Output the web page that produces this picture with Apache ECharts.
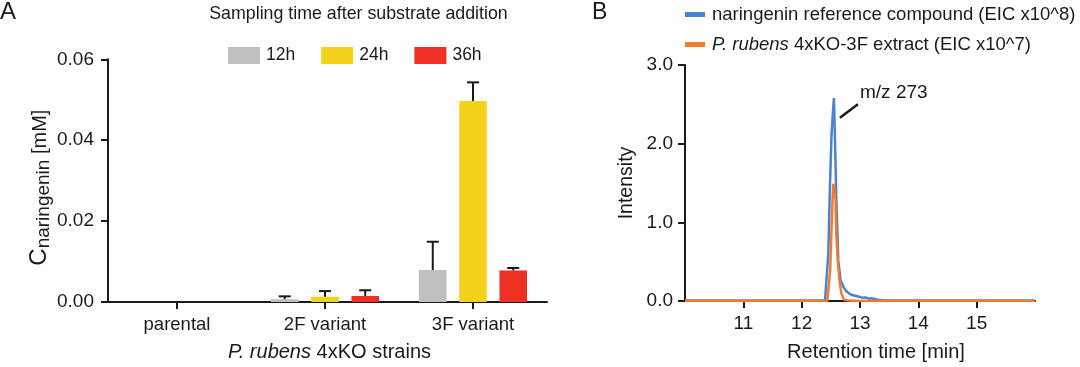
<!DOCTYPE html>
<html><head><meta charset="utf-8">
<script src="https://cdn.jsdelivr.net/npm/echarts@6/dist/echarts.min.js"></script>
<style>html,body{margin:0;padding:0;background:#fff}#c{width:1080px;height:367px}</style>
</head><body><div id="c"></div>
<script>
// ---- Panel A data ----
const strains = ['parental', '2F variant', '3F variant'];
const timeLabels = ['12h', '24h', '36h'];
const mean12 = [0, 0.0007, 0.0079];
const mean24 = [0, 0.0013, 0.0497];
const mean36 = [0, 0.0015, 0.0078];
const sd12 = [0, 0.0007, 0.0070];
const sd24 = [0, 0.0014, 0.0046];
const sd36 = [0, 0.0014, 0.0006];
const yTicksA = [0, 0.02, 0.04, 0.06];

// ---- Panel B data ----
const blueT = [10.0, 11.0, 12.0, 12.40, 12.427, 12.456, 12.484, 12.513, 12.553, 12.573, 12.594, 12.611, 12.628, 12.668, 12.724, 12.76, 12.805, 12.85, 12.9, 12.954, 13.0, 13.05, 13.1, 13.15, 13.2, 13.3, 13.4, 14.0, 15.0, 16.0];
const blueI = [0.005, 0.005, 0.005, 0.005, 0.01, 0.59, 1.43, 2.14, 2.58, 2.0, 1.30, 0.93, 0.51, 0.26, 0.17, 0.13, 0.10, 0.08, 0.07, 0.06, 0.05, 0.04, 0.045, 0.03, 0.035, 0.015, 0.01, 0.005, 0.005, 0.005];
const orangeT = [10.0, 11.0, 12.0, 12.44, 12.467, 12.49, 12.508, 12.525, 12.542, 12.56, 12.58, 12.594, 12.62, 12.65, 12.68, 12.72, 12.8, 13.0, 14.0, 15.0, 16.0];
const orangeI = [0, 0, 0, 0, 0.02, 0.4, 0.84, 1.2, 1.49, 1.42, 1.29, 0.84, 0.5, 0.25, 0.1, 0.02, 0.005, 0, 0, 0, 0];
const xTicksB = [11, 12, 13, 14, 15];
const yTicksB = [0, 1, 2, 3];
const seriesNamesB = ['naringenin reference compound (EIC x10^8)', 'P. rubens 4xKO-3F extract (EIC x10^7)'];

const FONT = 'Liberation Sans, Arial, Helvetica, sans-serif';
const INK = '#1a1a1a';
const barColors = ['#bfbfbf', '#f3d21b', '#ee3124'];
const lineColors = ['#4a82d0', '#f47a2c'];
const CAT_GAP = 0.27, BAR_GAP = 0.46;

const means = [mean12, mean24, mean36];
const sds = [sd12, sd24, sd36];
const errData = [];
means.forEach((m, si) => m.forEach((v, ci) => errData.push([ci, si, v, sds[si][ci]])));

const chart = echarts.init(document.getElementById('c'), null, {renderer: 'canvas'});

const axisLine = {show: true, lineStyle: {color: INK, width: 2}};
const axisTick = {show: true, inside: false, length: 7, lineStyle: {color: INK, width: 2}};

chart.setOption({
  animation: false,
  textStyle: {fontFamily: FONT, color: INK},
  grid: [
    {left: 103, top: 59.3, width: 444, height: 243.4},
    {left: 685, top: 65, width: 350, height: 238.3}
  ],
  legend: [
    {
      data: timeLabels, left: 228, top: 46.5, icon: 'rect', padding: 0,
      itemWidth: 32, itemHeight: 17, itemGap: 26,
      textStyle: {fontSize: 17.5, fontFamily: FONT, color: INK, padding: [0, 0, 0, 1]}
    },
    {
      data: seriesNamesB, orient: 'vertical', left: 685, top: 5, icon: 'rect', padding: 0,
      itemWidth: 20, itemHeight: 5, itemGap: 11,
      formatter: n => n.startsWith('P. rubens') ? '{i|P. rubens}' + n.slice(9) : n,
      textStyle: {fontSize: 18.5, fontFamily: FONT, color: INK, padding: [0, 0, 0, 2],
        rich: {i: {fontStyle: 'italic', fontSize: 18.5, fontFamily: FONT, color: INK}}}
    }
  ],
  xAxis: [
    {
      gridIndex: 0, type: 'category', data: strains,
      axisLine: axisLine, axisTick: Object.assign({alignWithLabel: true}, axisTick),
      axisLabel: {fontSize: 18.5, color: INK, margin: 13},
      name: '{i|P. rubens} 4xKO strains', nameLocation: 'middle', nameGap: 40,
      nameTextStyle: {fontSize: 20, color: INK, padding: [0, 0, 0, 9], rich: {i: {fontStyle: 'italic', fontSize: 20, color: INK}}}
    },
    {
      gridIndex: 1, type: 'value', min: 10, max: 16, interval: 1,
      axisLine: axisLine, splitLine: {show: false},
      axisTick: Object.assign({customValues: xTicksB}, axisTick),
      axisLabel: {fontSize: 19, color: INK, margin: 13, customValues: xTicksB},
      name: 'Retention time [min]', nameLocation: 'middle', nameGap: 41,
      nameTextStyle: {fontSize: 20, color: INK, padding: [0, 0, 0, 32]}
    }
  ],
  yAxis: [
    {
      gridIndex: 0, type: 'value', min: 0, max: 0.06, interval: 0.02, offset: -5,
      axisLine: axisLine, axisTick: axisTick, splitLine: {show: false},
      axisLabel: {fontSize: 19, color: INK, margin: 14, customValues: yTicksA, formatter: v => v.toFixed(2)},
      name: '{c|C}{s|naringenin}{m| [mM]}', nameLocation: 'middle', nameGap: 55,
      nameTextStyle: {color: INK, padding: [0, 14, 0, 0], rich: {
        c: {fontSize: 24, lineHeight: 24, verticalAlign: 'top', color: INK, fontFamily: FONT},
        s: {fontSize: 19, lineHeight: 19, verticalAlign: 'top', padding: [7, 0, 0, 0], color: INK, fontFamily: FONT},
        m: {fontSize: 20, lineHeight: 20, verticalAlign: 'top', padding: [3.5, 0, 0, 0], color: INK, fontFamily: FONT}
      }}
    },
    {
      gridIndex: 1, type: 'value', min: 0, max: 3, interval: 1,
      axisLine: axisLine, axisTick: axisTick, splitLine: {show: false},
      axisLabel: {fontSize: 19, color: INK, margin: 12, customValues: yTicksB, formatter: v => v.toFixed(1)},
      name: 'Intensity', nameLocation: 'middle', nameGap: 48,
      nameTextStyle: {fontSize: 19.5, color: INK}
    }
  ],
  series: [
    ...timeLabels.map((name, i) => ({
      name: name, type: 'bar', xAxisIndex: 0, yAxisIndex: 0,
      data: means[i], barCategoryGap: (CAT_GAP * 100) + '%', barGap: (BAR_GAP * 100) + '%',
      itemStyle: {color: barColors[i]}, z: 2
    })),
    {
      type: 'custom', xAxisIndex: 0, yAxisIndex: 0, data: errData, z: 3,
      encode: {x: 0, y: 2},
      renderItem: function (params, api) {
        const ci = api.value(0), si = api.value(1), m = api.value(2), sd = api.value(3);
        if (!(sd > 0)) return;
        const catW = api.size([1, 0])[0];
        const bw = catW * (1 - CAT_GAP) / (3 + 2 * BAR_GAP);
        const step = bw * (1 + BAR_GAP);
        const base = api.coord([ci, m]);
        const top = api.coord([ci, m + sd]);
        const x = base[0] + (si - 1) * step;
        const st = {stroke: INK, lineWidth: 2};
        return {type: 'group', children: [
          {type: 'line', shape: {x1: x, y1: base[1], x2: x, y2: top[1]}, style: st},
          {type: 'line', shape: {x1: x - 6, y1: top[1], x2: x + 6, y2: top[1]}, style: st}
        ]};
      }
    },
    {
      name: seriesNamesB[0], type: 'line', xAxisIndex: 1, yAxisIndex: 1,
      data: blueT.map((t, i) => [t, blueI[i]]), showSymbol: false, symbol: 'none',
      lineStyle: {color: lineColors[0], width: 2.5}, itemStyle: {color: lineColors[0]}, z: 3,
      markLine: {
        silent: true, symbol: ['none', 'none'], label: {show: false},
        lineStyle: {color: INK, width: 2.5, type: 'solid'},
        data: [[{coord: [12.656, 2.33]}, {coord: [12.964, 2.50]}]]
      }
    },
    {
      name: seriesNamesB[1], type: 'line', xAxisIndex: 1, yAxisIndex: 1,
      data: orangeT.map((t, i) => [t, orangeI[i]]), showSymbol: false, symbol: 'none',
      lineStyle: {color: lineColors[1], width: 2.5}, itemStyle: {color: lineColors[1]}, z: 4
    }
  ],
  graphic: [
    {type: 'text', left: 0, top: 0, style: {text: 'A', fontSize: 24, fontFamily: FONT, fill: INK}},
    {type: 'text', left: 592, top: 1, style: {text: 'B', fontSize: 23, fontFamily: FONT, fill: INK}},
    {type: 'text', x: 358.5, y: 14, style: {text: 'Sampling time after substrate addition', fontSize: 17.8, fontFamily: FONT, fill: INK, align: 'center', verticalAlign: 'middle'}},
    {type: 'text', x: 860, y: 93, style: {text: 'm/z 273', fontSize: 19, fontFamily: FONT, fill: INK, align: 'left', verticalAlign: 'middle'}}
  ]
});
</script></body></html>
